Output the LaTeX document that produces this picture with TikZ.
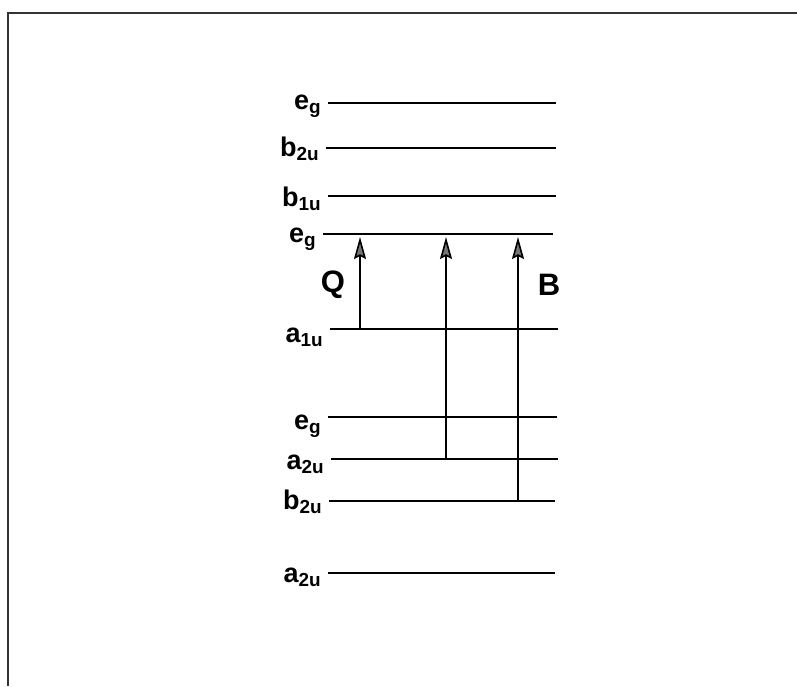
\documentclass[tikz,border=0pt]{standalone}
\usepackage{fontspec}
\setmainfont{Liberation Sans}
\usetikzlibrary{arrows.meta}

\begin{document}
\begin{tikzpicture}[x=0.5pt,y=-0.5pt,
  level/.style={line width=1.1pt},
  lbl/.style={font=\fontsize{13.5}{15}\selectfont\bfseries,anchor=east,inner sep=0pt},
  band/.style={font=\fontsize{15.5}{17}\selectfont\bfseries,inner sep=0pt},
  trans/.style={-{Stealth[length=11pt,width=6pt,inset=1.5pt,fill=gray!45!black!70]},line width=0.8pt}]
\useasboundingbox (0,0) rectangle (797,686);
\draw[line width=1pt,black!80] (8,686) -- (8,13) -- (797,13);

% orbital levels: name/y/start/end/label shift/label
\foreach \n/\y/\xa/\xb/\dy/\t in {eg4/103/328/556/-1.5/{e\textsubscript{g}},
    btwo/148/326/556/-0.5/{b\textsubscript{2u}},
    bone/196/328/556/-1.5/{b\textsubscript{1u}},
    eg3/234/323/553/-2.5/{e\textsubscript{g}},
    aone/329/330/558/-4/{a\textsubscript{1u}},
    eg2/417/328/557/-4.5/{e\textsubscript{g}},
    atwo/459/331/558/-2.5/{a\textsubscript{2u}},
    bthree/501/329/555/-0.5/{b\textsubscript{2u}},
    alow/573/328/555/-2/{a\textsubscript{2u}}}{
  \coordinate (\n-l) at (\xa,\y);
  \coordinate (\n-r) at (\xb,\y);
  \draw[level] (\n-l) -- (\n-r);
  \node[lbl] (\n-txt) at ([xshift=-3pt,yshift=\dy pt]\n-l) {\t};
}

% transitions
\coordinate (q-lo) at (360,329);  \coordinate (q-hi) at (360,237);
\coordinate (m-lo) at (446,459);  \coordinate (m-hi) at (446,237);
\coordinate (b-lo) at (518,501);  \coordinate (b-hi) at (518,237);
\draw[trans] (q-lo) -- (q-hi);
\draw[trans] (m-lo) -- (m-hi);
\draw[trans] (b-lo) -- (b-hi);

\node[band] (qband) at (333,285) {Q};
\node[band] (bband) at (549,285) {B};
\end{tikzpicture}
\end{document}
